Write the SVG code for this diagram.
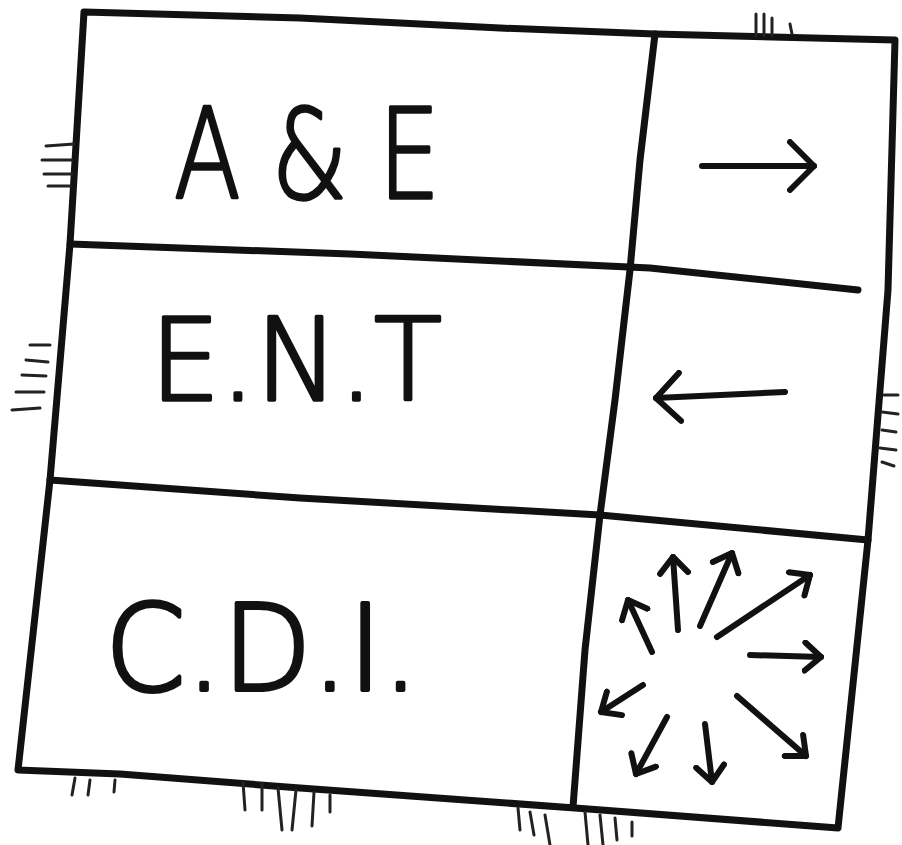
<svg xmlns="http://www.w3.org/2000/svg" width="902" height="845" viewBox="0 0 902 845">
  <style>
    .ln{fill:none;stroke:#111;stroke-width:7;stroke-linecap:round;stroke-linejoin:round}
    .ar{fill:none;stroke:#111;stroke-width:6;stroke-linecap:round}
    .tk{fill:none;stroke:#222;stroke-width:3;stroke-linecap:round}
    .hand{font-family:"DejaVu Sans","Liberation Sans",sans-serif;font-weight:200;fill:#111;stroke:#111;stroke-width:3.5;stroke-linejoin:round}
    .cdi{font-family:"DejaVu Sans","Liberation Sans",sans-serif;font-weight:200;fill:#111;stroke:#111;stroke-width:4;stroke-linejoin:round}
  </style>
  <defs>
    <marker id="headL" viewBox="0 0 30 54" refX="27" refY="27" markerWidth="30" markerHeight="54" markerUnits="userSpaceOnUse" orient="auto">
      <path d="M3,3 L27,27 L3,51" fill="none" stroke="#111" stroke-width="6" stroke-linecap="round" stroke-linejoin="round"/>
    </marker>
    <marker id="headS" viewBox="0 0 22 34" refX="19" refY="17" markerWidth="22" markerHeight="34" markerUnits="userSpaceOnUse" orient="auto">
      <path d="M3,3 L19,17 L3,31" fill="none" stroke="#111" stroke-width="6" stroke-linecap="round" stroke-linejoin="round"/>
    </marker>
  </defs>
  <rect width="902" height="845" fill="#fff"/>

  <g id="frame">
    <path class="ln" d="M84,12 L300,18 L500,28 L655,34 L895,40 L888,290 L868,540 L838,828 L575,808 L300,788 L120,774 L18,770 L50,480 L70,244 Z"/>
    <path class="ln" d="M70,244 L350,254 L650,268 L858,290"/>
    <path class="ln" d="M50,480 L300,498 L600,515 L868,540"/>
    <path class="ln" d="M655,34 L640,160 L630,270 L615,400 L600,515 L585,650 L573,807"/>
  </g>

  <g id="ticks">
    <path class="tk" d="M46,146 L74,144 M42,160 L72,160 M44,174 L72,174 M48,186 L70,186"/>
    <path class="tk" d="M30,345 L50,345 M26,360 L48,362 M22,375 L46,376 M16,392 L44,392 M12,410 L40,408"/>
    <path class="tk" d="M884,395 L898,395 M882,412 L898,414 M882,430 L896,432 M880,448 L896,450 M882,462 L894,466"/>
    <path class="tk" d="M756,14 L756,36 M764,14 L764,36 M772,18 L772,36 M790,24 L792,34"/>
    <path class="tk" d="M75,778 L72,795 M90,780 L88,795 M115,780 L114,792"/>
    <path class="tk" d="M243,782 L245,810 M262,784 L262,810 M278,788 L282,830 M296,790 L292,830 M314,792 L312,826 M330,795 L330,812"/>
    <path class="tk" d="M518,808 L520,830 M530,812 L534,835 M545,815 L550,845 M585,812 L588,845 M600,815 L603,845 M615,818 L617,840 M632,822 L632,836"/>
  </g>

  <g id="cell-ae">
    <text class="hand" x="174" y="198" font-size="124" textLength="266" lengthAdjust="spacingAndGlyphs">A &amp; E</text>
  </g>
  <g id="cell-ae-arrow">
    <line class="ar" x1="702" y1="166" x2="814" y2="166" marker-end="url(#headL)"/>
  </g>

  <g id="cell-ent">
    <text class="hand" x="150" y="400" font-size="114" textLength="292" lengthAdjust="spacingAndGlyphs">E.N.T</text>
  </g>
  <g id="cell-ent-arrow">
    <line class="ar" x1="785" y1="392" x2="656" y2="398" marker-end="url(#headL)"/>
  </g>

  <g id="cell-cdi">
    <text class="cdi" x="105" y="690" font-size="120" textLength="314" lengthAdjust="spacingAndGlyphs">C.D.I.</text>
  </g>
  <g id="cell-cdi-arrows">
    <line class="ar" x1="652" y1="652" x2="628" y2="600" marker-end="url(#headS)"/>
    <line class="ar" x1="678" y1="630" x2="673" y2="557" marker-end="url(#headS)"/>
    <line class="ar" x1="700" y1="626" x2="732" y2="553" marker-end="url(#headS)"/>
    <line class="ar" x1="717" y1="637" x2="810" y2="575" marker-end="url(#headS)"/>
    <line class="ar" x1="750" y1="655" x2="821" y2="657" marker-end="url(#headS)"/>
    <line class="ar" x1="737" y1="696" x2="806" y2="756" marker-end="url(#headS)"/>
    <line class="ar" x1="705" y1="724" x2="712" y2="782" marker-end="url(#headS)"/>
    <line class="ar" x1="667" y1="717" x2="636" y2="774" marker-end="url(#headS)"/>
    <line class="ar" x1="643" y1="685" x2="601" y2="712" marker-end="url(#headS)"/>
  </g>
</svg>
